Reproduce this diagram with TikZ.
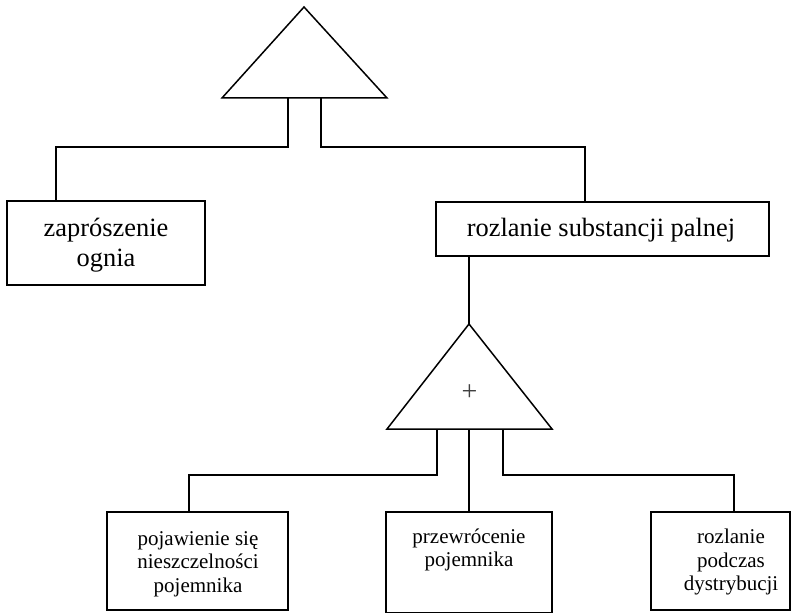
\documentclass[tikz,border=0pt]{standalone}
\usepackage{fontspec}
\setmainfont{Liberation Serif}
\usetikzlibrary{calc}

\tikzset{
  wire/.style={line width=1.6pt, line join=miter},
  gate/.style={line width=1.5pt, line join=miter},
  eventbox/.style={draw, line width=1.6pt, inner sep=0pt},
  bigtext/.style={align=center, inner sep=0pt, font=\fontsize{26.4}{30}\selectfont},
  smalltext/.style={align=center, inner sep=0pt, font=\fontsize{21}{23.5}\selectfont},
}

\begin{document}
\begin{tikzpicture}[x=1pt, y=-1pt]
  \useasboundingbox (0,0) rectangle (791,612);

  % top gate (AND)
  \coordinate (g1top) at (304,7);
  \coordinate (g1l) at (222,98);
  \coordinate (g1r) at (387,98);
  \coordinate (g1a) at (288,98);
  \coordinate (g1b) at (321,98);
  \draw[gate] (g1top) -- (g1r) -- (g1l) -- cycle;

  % first level events
  \node[eventbox, minimum width=198pt, minimum height=84pt] (fire) at (106,243) {};
  \node[bigtext] (firetext) at (106,245) {zaprószenie\\ognia};
  \node[eventbox, minimum width=333pt, minimum height=54pt] (spill) at (602.5,229) {};
  \node[bigtext] (spilltext) at (601,230) {rozlanie substancji palnej};

  \draw[wire] (g1a) -- ++(0,49) -| ($(fire.north west)!0.25!(fire.north east)$);
  \draw[wire] (g1b) -- ++(0,49) -| ($(spill.north west)!0.447!(spill.north east)$);

  % second gate (OR)
  \coordinate (g2top) at (469,324);
  \coordinate (g2l) at (387,429);
  \coordinate (g2r) at (552,429);
  \coordinate (g2a) at (437,429);
  \coordinate (g2b) at (469,429);
  \coordinate (g2c) at (503,429);
  \draw[gate] (g2top) -- (g2r) -- (g2l) -- cycle;
  \node[font=\fontsize{28}{30}\selectfont, text=black!75, inner sep=0pt] (orsign) at (469.5,393) {+};

  \draw[wire] (spill.south -| g2top) -- (g2top);

  % basic events
  \node[eventbox, minimum width=181pt, minimum height=98pt] (leak) at (197.5,561) {};
  \node[smalltext] (leaktext) at (198,564) {pojawienie się\\nieszczelności\\pojemnika};
  \node[eventbox, minimum width=166pt, minimum height=101pt] (tip) at (469,562.5) {};
  \node[smalltext] (tiptext) at (469,550) {przewrócenie\\pojemnika};
  \node[eventbox, minimum width=139pt, minimum height=98pt] (dist) at (720.5,561) {};
  \node[smalltext] (disttext) at (731,562) {rozlanie\\podczas\\dystrybucji};

  \draw[wire] (g2a) -- ++(0,46) -| ($(leak.north west)!0.453!(leak.north east)$);
  \draw[wire] (g2b) -- (tip.north);
  \draw[wire] (g2c) -- ++(0,46) -| ($(dist.north west)!0.597!(dist.north east)$);
\end{tikzpicture}
\end{document}
